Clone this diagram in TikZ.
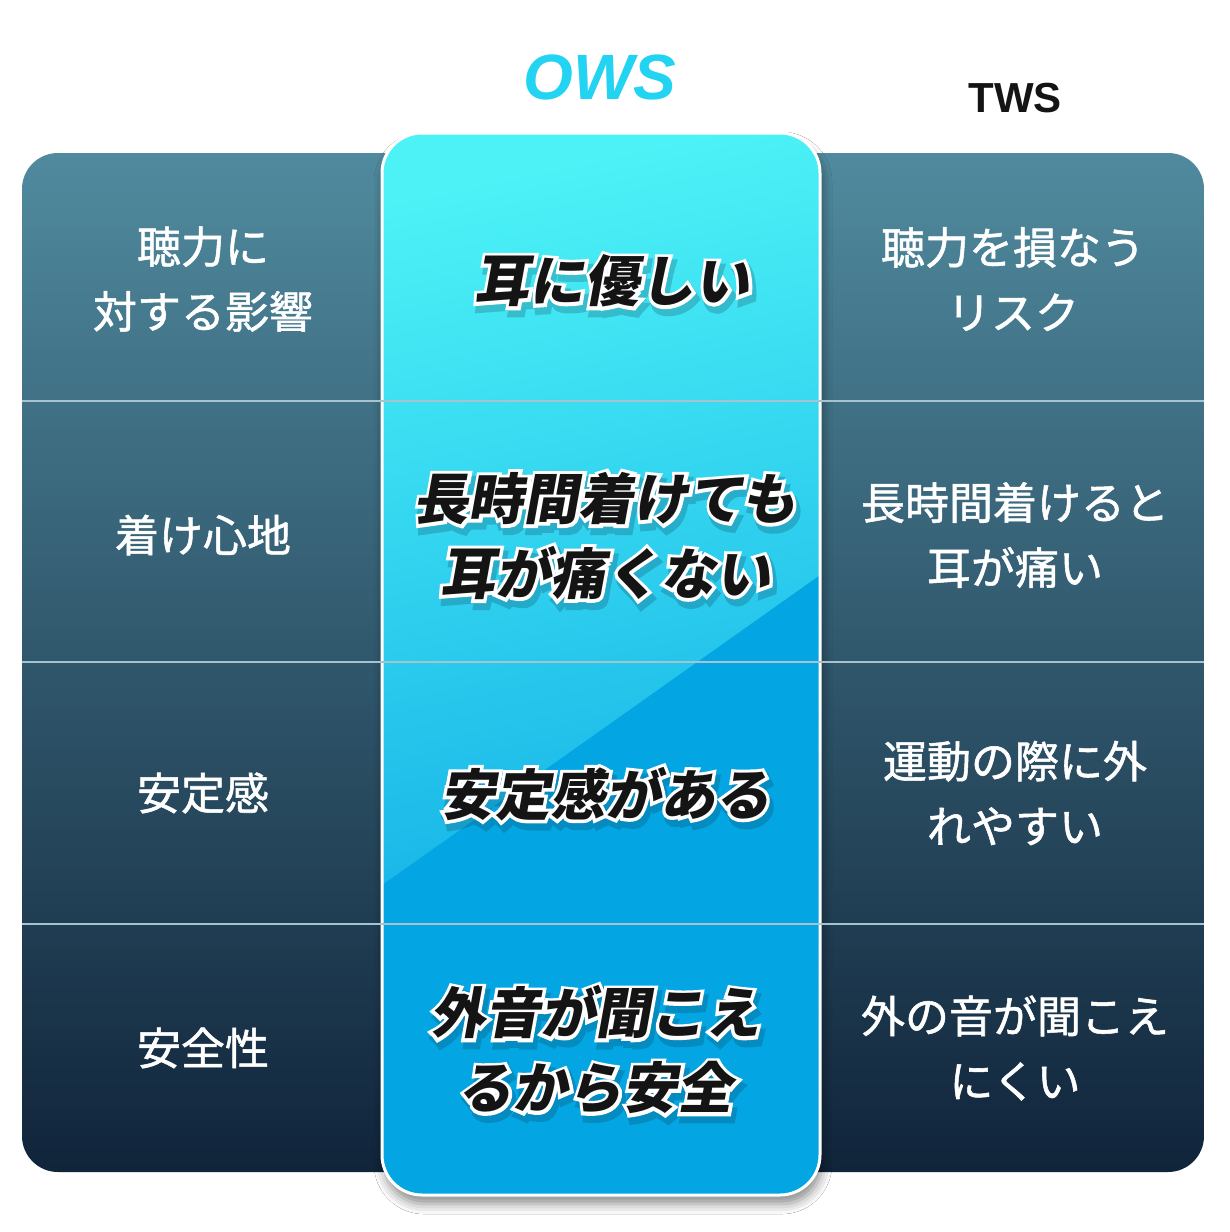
\documentclass[tikz,border=0pt]{standalone}
\usepackage{fontspec}
\usetikzlibrary{shadows.blur}
\newfontfamily\jp{Noto Sans CJK JP}[FakeBold=1.2]
\newfontfamily\jpb{Noto Sans CJK JP Black}[FakeSlant=0.18]
\newfontfamily\jpo{Noto Sans CJK JP Black}[FakeSlant=0.18, FakeBold=12]
\newfontfamily\jps{Noto Sans CJK JP Black}[FakeSlant=0.18, FakeBold=16]
\newfontfamily\lat{Liberation Sans}
\definecolor{owscyan}{HTML}{22D3F2}
\definecolor{twsblack}{HTML}{141414}
\definecolor{dtop}{HTML}{508A9E}
\definecolor{dbot}{HTML}{10243A}
\definecolor{ctop}{HTML}{4CF2F6}
\definecolor{cbot}{HTML}{18B6E8}
\definecolor{clow}{HTML}{03A6E2}
\definecolor{divider}{HTML}{A6C3D0}
\definecolor{shadowc}{HTML}{0A2F4A}
\newcommand\mtext[1]{\rlap{\color{white}\jpo #1}{\color{twsblack}\jpb #1}}
\newcommand\stext[1]{{\color{shadowc}\jps #1}}
\tikzset{
  sidetext/.style={text=white, font=\jp\fontsize{44}{65}\selectfont, align=center, inner sep=0pt},
  midtext/.style={font=\jpb\fontsize{55}{75}\selectfont, align=center, inner sep=0pt},
  divline/.style={divider, line width=2pt},
}
\begin{document}
\begin{tikzpicture}[x=1pt,y=-1pt]
\useasboundingbox[fill=white] (0,0) rectangle (1230,1232);
% dark panel
\shade[top color=dtop, bottom color=dbot, rounded corners=36pt] (22,153) rectangle (1204,1172);
% middle panel
\fill[clow, rounded corners=40pt, blur shadow={shadow xshift=2pt, shadow yshift=-9pt, shadow blur radius=10pt, shadow opacity=45}] (382,133) rectangle (820,1195);
\begin{scope}
\clip[rounded corners=40pt] (382,133) rectangle (820,1195);
\fill[clow] (382,133) rectangle (820,1195);
\shade[top color=ctop, bottom color=cbot, shading angle=12] (382,133) -- (820,133) -- (820,575) -- (382,885) -- cycle;
\end{scope}
\draw[white, line width=3pt, rounded corners=40pt] (382,133) rectangle (820,1195);
% dividers
\coordinate (l1) at (22,401); \coordinate (r1) at (1204,401);
\coordinate (l2) at (22,662); \coordinate (r2) at (1204,662);
\coordinate (l3) at (22,924); \coordinate (r3) at (1204,924);
\draw[divline] (l1) -- (r1);
\draw[divline] (l2) -- (r2);
\draw[divline] (l3) -- (r3);
% headers
\node[inner sep=0pt, text=owscyan, font=\lat\bfseries\itshape\fontsize{64}{64}\selectfont] (ows) at (600,77) {OWS};
\node[inner sep=0pt, text=twsblack, font=\lat\bfseries\fontsize{42}{42}\selectfont] (tws) at (1015,98) {TWS};
% left column
\node[sidetext] (a1) at (203,279) {聴力に\\対する影響};
\node[sidetext] (a2) at (203,535) {着け心地};
\node[sidetext] (a3) at (203,793) {安定感};
\node[sidetext] (a4) at (203,1048) {安全性};
% right column
\node[sidetext] (c1) at (1013,279) {聴力を損なう\\リスク};
\node[sidetext] (c2) at (1015,535) {長時間着けると\\耳が痛い};
\node[sidetext] (c3) at (1015,793) {運動の際に外\\れやすい};
\node[sidetext] (c4) at (1015,1048) {外の音が聞こえ\\にくい};
% middle shadows
\begin{scope}[transparency group, opacity=0.22]
\node[midtext] (s1) at (615,287) {\stext{耳に優しい}};
\node[midtext] (s2) at (608,542) {\stext{長時間着けても}\\\stext{耳が痛くない}};
\node[midtext] (s3) at (608,800) {\stext{安定感がある}};
\node[midtext] (s4) at (598,1056) {\stext{外音が聞こえ}\\\stext{るから安全}};
\end{scope}
% middle texts
\node[midtext] (b1) at (612,281) {\mtext{耳に優しい}};
\node[midtext] (b2) at (605,536) {\mtext{長時間着けても}\\\mtext{耳が痛くない}};
\node[midtext] (b3) at (605,794) {\mtext{安定感がある}};
\node[midtext] (b4) at (595,1050) {\mtext{外音が聞こえ}\\\mtext{るから安全}};
\end{tikzpicture}
\end{document}
